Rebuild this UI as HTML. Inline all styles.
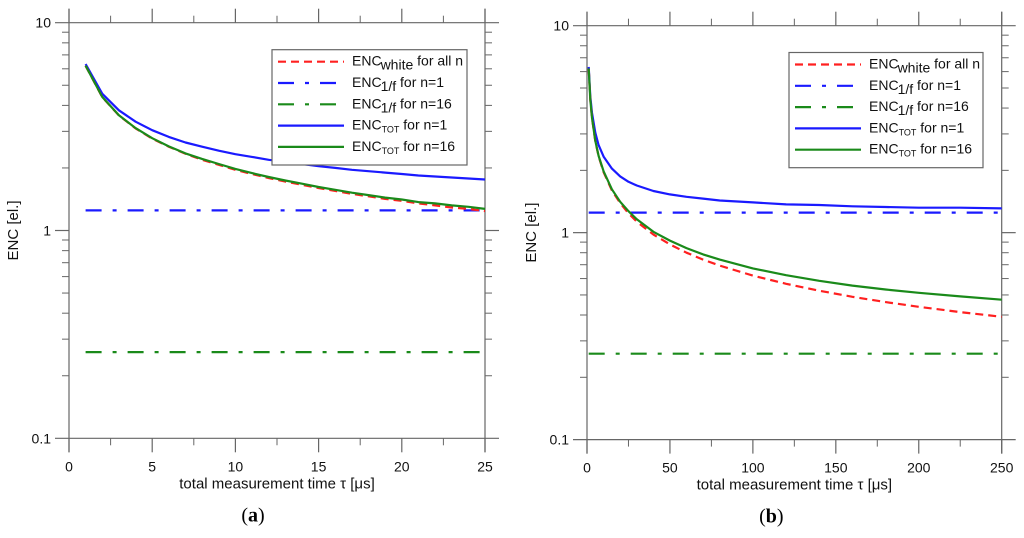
<!DOCTYPE html>
<html><head><meta charset="utf-8"><style>
body{margin:0;background:#fff;}
svg{display:block;font-family:"Liberation Sans",sans-serif;}
</style></head><body>
<svg id="chart" width="1024" height="538" viewBox="0 0 1024 538"></svg>
<script>
// Panel (a) data
const tauA = [1,2,3,4,5,6,7,8,9,10,11,12,13,14,15,16,17,18,19,20,21,22,23,24,25];
const whiteA = [6.20,4.38,3.58,3.10,2.77,2.53,2.34,2.19,2.07,1.96,1.87,1.79,1.72,1.66,1.60,1.55,1.50,1.46,1.42,1.39,1.35,1.32,1.29,1.27,1.24];
const tot1A = [6.32,4.55,3.79,3.34,3.04,2.82,2.65,2.53,2.42,2.33,2.26,2.19,2.14,2.09,2.04,2.00,1.96,1.93,1.90,1.87,1.84,1.82,1.80,1.78,1.76];
const tot16A = [6.21,4.39,3.59,3.11,2.78,2.54,2.35,2.21,2.09,1.98,1.89,1.81,1.74,1.68,1.62,1.57,1.52,1.48,1.44,1.41,1.37,1.35,1.32,1.30,1.27];
const flick1A = [1.25,1.25];
const flick16A = [0.26,0.26];
const flickTauA = [1,25];
const xTicksA = [0,5,10,15,20,25];
// Panel (b) data
const tauB = [1,2,3,5,7,10,15,20,25,30,40,50,60,70,80,100,120,140,160,180,200,225,250];
const whiteB = [6.20,4.38,3.58,2.77,2.34,1.96,1.60,1.39,1.24,1.13,0.98,0.877,0.800,0.741,0.693,0.620,0.566,0.524,0.490,0.462,0.438,0.413,0.392];
const tot1B = [6.32,4.55,3.79,3.04,2.65,2.33,2.04,1.87,1.76,1.69,1.59,1.53,1.49,1.46,1.43,1.40,1.37,1.36,1.34,1.33,1.32,1.32,1.31];
const tot16B = [6.21,4.39,3.59,2.78,2.35,1.98,1.62,1.41,1.27,1.16,1.01,0.915,0.842,0.785,0.741,0.672,0.623,0.585,0.555,0.531,0.512,0.492,0.474];
const flick1B = [1.25,1.25];
const flick16B = [0.26,0.26];
const flickTauB = [1,250];
const xTicksB = [0,50,100,150,200,250];
const yTicks = [0.1,1,10];
const yTickLabels = ["0.1","1","10"];

const NS="http://www.w3.org/2000/svg";
const svg=document.getElementById('chart');
function mk(tag,attrs,parent){const e=document.createElementNS(NS,tag);for(const k in attrs)e.setAttribute(k,attrs[k]);(parent||svg).appendChild(e);return e;}

function panel(cfg){
  const g=mk('g',{});
  
  
  const xs=v=>cfg.x0+(v-cfg.xmin)/(cfg.xmax-cfg.xmin)*(cfg.x1-cfg.x0);
  const ys=v=>cfg.y0-(Math.log10(v)+1)/2*(cfg.y0-cfg.y1);
  const ax='#666';
  // frame lines
  [cfg.y0,cfg.y1].forEach(y=>{const l=mk('line',{x1:cfg.x0-14,x2:cfg.x1+14,y1:y,y2:y,stroke:ax,'stroke-width':1.2},g);
    
    });
  [cfg.x0,cfg.x1].forEach(x=>{const l=mk('line',{x1:x,x2:x,y1:cfg.y1-14,y2:cfg.y0+14,stroke:ax,'stroke-width':1.2},g);
    
    });
  // y ticks
  for(let d=-1;d<=1;d++){
    for(let m=2;m<=9;m++){const v=m*Math.pow(10,d);if(v>=10)continue;const y=ys(v);
      mk('line',{x1:cfg.x0-7,x2:cfg.x0,y1:y,y2:y,stroke:ax,'stroke-width':1},g);
      mk('line',{x1:cfg.x1,x2:cfg.x1+7,y1:y,y2:y,stroke:ax,'stroke-width':1},g);}
  }
  const y1v=ys(1);
  mk('line',{x1:cfg.x0-14,x2:cfg.x0,y1:y1v,y2:y1v,stroke:ax,'stroke-width':1.2},g);
  mk('line',{x1:cfg.x1,x2:cfg.x1+14,y1:y1v,y2:y1v,stroke:ax,'stroke-width':1.2},g);
  yTicks.forEach((v,i)=>{const t=mk('text',{x:cfg.x0-18,y:ys(v)+5,'text-anchor':'end','font-size':14,fill:'#111'},g);t.textContent=yTickLabels[i];
    
    });
  // x ticks
  const step=cfg.xTicks[1]-cfg.xTicks[0];
  cfg.xTicks.forEach((v,i)=>{const x=xs(v);
    mk('line',{x1:x,x2:x,y1:cfg.y1-14,y2:cfg.y1,stroke:ax,'stroke-width':1.2},g);
    mk('line',{x1:x,x2:x,y1:cfg.y0,y2:cfg.y0+14,stroke:ax,'stroke-width':1.2},g);
    if(i<cfg.xTicks.length-1){const xm=xs(v+step/2);
      mk('line',{x1:xm,x2:xm,y1:cfg.y1-7,y2:cfg.y1,stroke:ax,'stroke-width':1},g);
      mk('line',{x1:xm,x2:xm,y1:cfg.y0,y2:cfg.y0+7,stroke:ax,'stroke-width':1},g);}
    const t=mk('text',{x:x,y:cfg.y0+33,'text-anchor':'middle','font-size':14,fill:'#111'},g);t.textContent=v;
    
    });
  // titles
  const xt=mk('text',{x:(cfg.x0+cfg.x1)/2,y:cfg.y0+50,'text-anchor':'middle','font-size':15,fill:'#111'},g);
  xt.textContent='total measurement time τ [μs]';
  
  
  const yt=mk('text',{x:0,y:0,'text-anchor':'middle','font-size':15,fill:'#111',transform:`translate(${cfg.x0-51},${ys(1)}) rotate(-90)`},g);
  yt.textContent='ENC [el.]';
  
  
  const cap=mk('text',{x:(cfg.x0+cfg.x1)/2+(cfg.capDx||0),y:cfg.y0+83,'text-anchor':'middle','font-size':20,'font-family':'Liberation Serif, serif',fill:'#000'},g);
  const tb=mk('tspan',{},cap);tb.textContent='(';
  const tl=mk('tspan',{'font-weight':'bold'},cap);tl.textContent=cfg.letter;
  const tc=mk('tspan',{},cap);tc.textContent=')';
  
  
  // series
  const dd='16,11,4,11';
  const series=[
    {n:'series-enc-1f-n1',x:cfg.ftau,y:cfg.f1,c:'#1a1aff',d:dd},
    {n:'series-enc-1f-n16',x:cfg.ftau,y:cfg.f16,c:'#1a8a1a',d:dd},
    {n:'series-enc-tot-n1',x:cfg.tau,y:cfg.t1,c:'#1a1aff',d:''},
    {n:'series-enc-white',x:cfg.tau,y:cfg.w,c:'#ff2020',d:'8,5'},
    {n:'series-enc-tot-n16',x:cfg.tau,y:cfg.t16,c:'#1a8a1a',d:''},
  ];
  series.forEach(s=>{const pts=s.x.map((t,i)=>xs(t).toFixed(1)+','+ys(s.y[i]).toFixed(1)).join(' ');
    const p=mk('polyline',{points:pts,fill:'none',stroke:s.c,'stroke-width':2.2,'stroke-dasharray':s.d,'stroke-linejoin':'round'},g);
    
    });
  // legend
  const L=cfg.leg;
  const lg=mk('g',{},g);
  
  
  mk('rect',{x:L.x,y:L.y,width:L.w,height:L.h,fill:'#fff',stroke:'#666','stroke-width':1.2},lg);
  const ents=[
    {c:'#ff2020',d:'8,5',m:'ENC',s:'white',sub:'big',r:' for all n'},
    {c:'#1a1aff',d:dd,m:'ENC',s:'1/f',sub:'big',r:' for n=1'},
    {c:'#1a8a1a',d:dd,m:'ENC',s:'1/f',sub:'big',r:' for n=16'},
    {c:'#1a1aff',d:'',m:'ENC',s:'TOT',sub:'small',r:' for n=1'},
    {c:'#1a8a1a',d:'',m:'ENC',s:'TOT',sub:'small',r:' for n=16'},
  ];
  ents.forEach((e,i)=>{const y=L.y+12+i*21.3;
    const eg=mk('g',{},lg);
    
    
    mk('line',{x1:L.x+6,x2:L.x+72,y1:y,y2:y,stroke:e.c,'stroke-width':2.2,'stroke-dasharray':e.d},eg);
    const t=mk('text',{x:L.x+80,y:y+4,'font-size':14,fill:'#111'},eg);
    const a=mk('tspan',{},t);a.textContent=e.m;
    const b=mk('tspan',{dy:e.sub==='big'?4:3,'font-size':e.sub==='big'?14:9,dx:e.sub==='big'?-1:0},t);b.textContent=e.s;
    const c=mk('tspan',{dy:e.sub==='big'?-4:-3},t);c.textContent=e.r;});
}
panel({name:'panel-a',x0:69,x1:485,y0:438.3,y1:22.7,xmin:0,xmax:25,xTicks:xTicksA,
  tau:tauA,w:whiteA,t1:tot1A,t16:tot16A,ftau:flickTauA,f1:flick1A,f16:flick16A,letter:'a',capDx:-24,
  leg:{x:272,y:49.7,w:195,h:115.3}});
panel({name:'panel-b',x0:587,x1:1001.7,y0:439.6,y1:25.7,xmin:0,xmax:250,xTicks:xTicksB,
  tau:tauB,w:whiteB,t1:tot1B,t16:tot16B,ftau:flickTauB,f1:flick1B,f16:flick16B,letter:'b',capDx:-23,
  leg:{x:789,y:52.5,w:194,h:115.2}});
</script>
</body></html>
